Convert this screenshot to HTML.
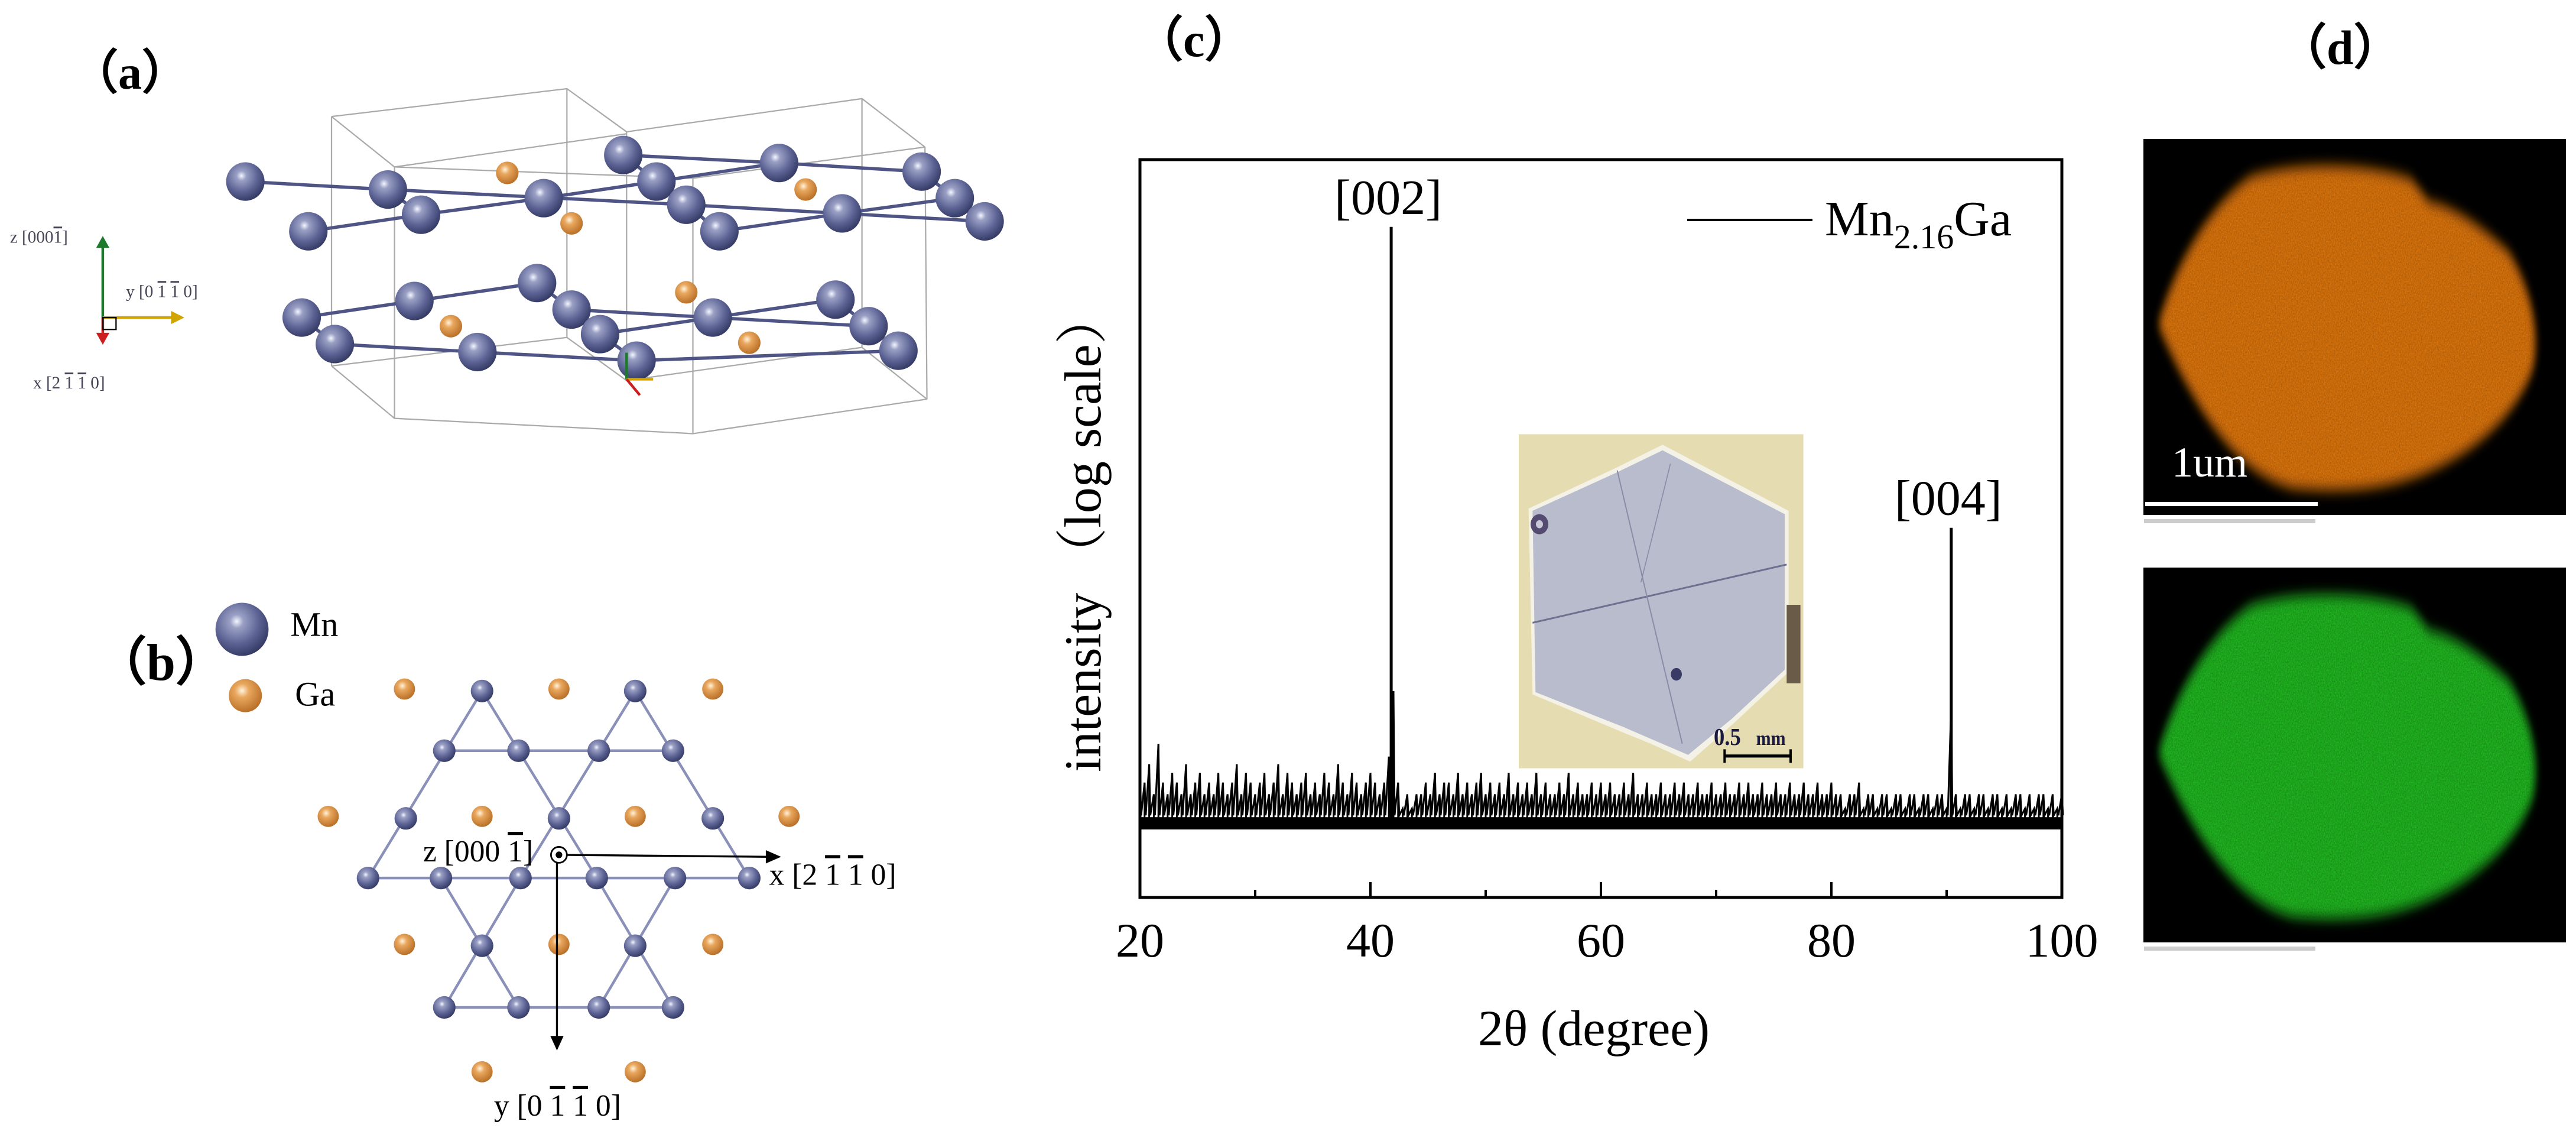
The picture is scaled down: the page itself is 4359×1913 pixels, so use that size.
<!DOCTYPE html>
<html><head><meta charset="utf-8"><style>
html,body{margin:0;padding:0;background:#fff;}
svg{display:block;}
text{font-family:"Liberation Serif",serif;}
</style></head><body>
<svg id="fig" width="4359" height="1913" viewBox="0 0 4359 1913" xmlns="http://www.w3.org/2000/svg">
<defs>
<radialGradient id="mnG" cx="0.4" cy="0.35" r="0.7"><stop offset="0" stop-color="#f4f6ff"/><stop offset="0.18" stop-color="#9aa0c4"/><stop offset="0.6" stop-color="#5c6394"/><stop offset="1" stop-color="#2f355e"/></radialGradient>
<radialGradient id="gaG" cx="0.4" cy="0.35" r="0.7"><stop offset="0" stop-color="#fff3dc"/><stop offset="0.3" stop-color="#e9a75e"/><stop offset="1" stop-color="#b56a22"/></radialGradient>
<filter id="spk" x="0" y="0" width="1" height="1"><feTurbulence type="fractalNoise" baseFrequency="0.35" numOctaves="1" result="n"/><feColorMatrix in="n" type="matrix" values="0 0 0 0 0  0 0 0 0 0  0 0 0 0 0  0 0 0 -1.2 0.9" result="m"/><feComposite in="SourceGraphic" in2="m" operator="in"/></filter>
<filter id="soft" x="-0.1" y="-0.1" width="1.2" height="1.2"><feGaussianBlur stdDeviation="12"/></filter>
</defs>

<text x="120" y="150" font-size="80" font-weight="bold">（a）</text>
<text x="160" y="1150" font-size="88" font-weight="bold">（b）</text>
<text x="1920" y="95" font-size="82" font-weight="bold">（c）</text>
<text x="3855" y="108" font-size="82" font-weight="bold">（d）</text>

<g transform="translate(0,150) scale(1.122)">
 <g fill="none" stroke="#aaa" stroke-width="2">
  <polyline points="500,42 855,0 945,65 1300,15 1395,88"/>
  <polyline points="500,42 595,118 945,68"/>
  <polyline points="595,118 1045,135 1395,88"/>
  <polyline points="500,418 595,497 1045,520 1398,468"/>
  <polyline points="500,418 855,375 945,440 1300,390 1398,468"/>
  <line x1="500" y1="42" x2="500" y2="418"/><line x1="595" y1="118" x2="595" y2="497"/>
  <line x1="855" y1="0" x2="855" y2="375"/><line x1="945" y1="65" x2="945" y2="440"/>
  <line x1="1045" y1="135" x2="1045" y2="520"/><line x1="1300" y1="15" x2="1300" y2="390"/>
  <line x1="1395" y1="88" x2="1398" y2="468"/>
 </g>
 <g fill="none" stroke="#4e5585" stroke-width="5">
  <polyline points="370,140 585,152 1035,175 1485,200"/>
  <polyline points="465,215 635,190 820,165 990,140 1175,112 1390,125"/>
  <polyline points="940,100 1175,112"/>
  <polyline points="585,152 635,190"/><polyline points="990,140 1035,175 1085,215 1270,188 1440,165 1390,125"/>
  <polyline points="1440,165 1485,200"/><polyline points="940,100 990,140"/>
  <polyline points="455,345 625,320 810,293 862,333 905,370 960,410"/>
  <polyline points="455,345 505,385 720,397 960,410 1355,395"/>
  <polyline points="862,333 1075,345 1260,318 1310,358 1355,395"/>
  <polyline points="905,370 1075,345"/><polyline points="1075,345 1310,358"/>
 </g>
 <g fill="url(#gaG)">
  <circle cx="765" cy="127" r="17"/><circle cx="862" cy="203" r="17"/><circle cx="1215" cy="152" r="17"/>
  <circle cx="1035" cy="307" r="17"/><circle cx="680" cy="358" r="17"/><circle cx="1130" cy="383" r="17"/>
 </g>
 <g fill="url(#mnG)">
  <circle cx="370" cy="140" r="29"/><circle cx="585" cy="152" r="29"/><circle cx="465" cy="215" r="29"/><circle cx="635" cy="190" r="29"/>
  <circle cx="820" cy="165" r="29"/><circle cx="940" cy="100" r="29"/><circle cx="990" cy="140" r="29"/><circle cx="1035" cy="175" r="29"/>
  <circle cx="1085" cy="215" r="29"/><circle cx="1175" cy="112" r="29"/><circle cx="1270" cy="188" r="29"/><circle cx="1390" cy="125" r="29"/>
  <circle cx="1440" cy="165" r="29"/><circle cx="1485" cy="200" r="29"/>
  <circle cx="455" cy="345" r="29"/><circle cx="625" cy="320" r="29"/><circle cx="810" cy="293" r="29"/><circle cx="862" cy="333" r="29"/>
  <circle cx="905" cy="370" r="29"/><circle cx="505" cy="385" r="29"/><circle cx="720" cy="397" r="29"/><circle cx="960" cy="410" r="29"/>
  <circle cx="1075" cy="345" r="29"/><circle cx="1260" cy="318" r="29"/><circle cx="1310" cy="358" r="29"/><circle cx="1355" cy="395" r="29"/>
 </g>
 <g stroke-width="4">
  <line x1="945" y1="438" x2="945" y2="398" stroke="#1d7a2c"/><line x1="945" y1="438" x2="985" y2="438" stroke="#d2a400"/><line x1="945" y1="438" x2="965" y2="462" stroke="#cc2020"/>
 </g>
 <g>
  <line x1="155" y1="345" x2="155" y2="235" stroke="#1d7a2c" stroke-width="4"/><polygon points="145,240 165,240 155,222" fill="#1d7a2c"/>
  <line x1="155" y1="345" x2="262" y2="345" stroke="#d2a400" stroke-width="4"/><polygon points="258,335 258,355 278,345" fill="#d2a400"/>
  <line x1="155" y1="345" x2="155" y2="372" stroke="#cc2020" stroke-width="4"/><polygon points="145,368 165,368 155,386" fill="#cc2020"/>
  <rect x="155" y="345" width="20" height="18" fill="none" stroke="#000" stroke-width="2"/>
  <text x="15" y="232" font-size="26" fill="#445">z [000<tspan text-decoration="overline">1</tspan>]</text>
  <text x="190" y="314" font-size="26" fill="#445">y [0 <tspan text-decoration="overline">1</tspan> <tspan text-decoration="overline">1</tspan> 0]</text>
  <text x="50" y="452" font-size="26" fill="#445">x [2 <tspan text-decoration="overline">1</tspan> <tspan text-decoration="overline">1</tspan> 0]</text>
 </g>
</g>

<g transform="translate(0,150) scale(1.122)">
 <g>
  <circle cx="365" cy="815" r="40" fill="url(#mnG)"/><text x="438" y="825" font-size="52">Mn</text>
  <circle cx="370" cy="915" r="25" fill="url(#gaG)"/><text x="445" y="930" font-size="52">Ga</text>
 </g>
 <g stroke="#8a90b8" stroke-width="4" fill="none">
  <line x1="670" y1="998" x2="1015" y2="998"/><line x1="555" y1="1190" x2="1130" y2="1190"/><line x1="670" y1="1385" x2="1015" y2="1385"/>
  <line x1="727" y1="908" x2="555" y2="1190"/><line x1="727" y1="908" x2="900" y2="1190"/>
  <line x1="958" y1="908" x2="785" y2="1190"/><line x1="958" y1="908" x2="1130" y2="1190"/>
  <line x1="665" y1="1190" x2="782" y2="1385"/><line x1="785" y1="1190" x2="670" y2="1385"/>
  <line x1="900" y1="1190" x2="1015" y2="1385"/><line x1="1018" y1="1190" x2="903" y2="1385"/>
 </g>
 <g fill="url(#gaG)">
  <circle cx="610" cy="905" r="16"/><circle cx="843" cy="905" r="16"/><circle cx="1075" cy="905" r="16"/>
  <circle cx="495" cy="1097" r="16"/><circle cx="727" cy="1097" r="16"/><circle cx="958" cy="1097" r="16"/><circle cx="1190" cy="1097" r="16"/>
  <circle cx="610" cy="1290" r="16"/><circle cx="843" cy="1290" r="16"/><circle cx="1075" cy="1290" r="16"/>
  <circle cx="727" cy="1482" r="16"/><circle cx="958" cy="1482" r="16"/>
 </g>
 <g fill="url(#mnG)">
  <circle cx="727" cy="908" r="17"/><circle cx="958" cy="908" r="17"/>
  <circle cx="670" cy="998" r="17"/><circle cx="782" cy="998" r="17"/><circle cx="903" cy="998" r="17"/><circle cx="1015" cy="998" r="17"/>
  <circle cx="612" cy="1100" r="17"/><circle cx="843" cy="1100" r="17"/><circle cx="1075" cy="1100" r="17"/>
  <circle cx="555" cy="1190" r="17"/><circle cx="665" cy="1190" r="17"/><circle cx="785" cy="1190" r="17"/><circle cx="900" cy="1190" r="17"/><circle cx="1018" cy="1190" r="17"/><circle cx="1130" cy="1190" r="17"/>
  <circle cx="727" cy="1292" r="17"/><circle cx="958" cy="1292" r="17"/>
  <circle cx="670" cy="1385" r="17"/><circle cx="782" cy="1385" r="17"/><circle cx="903" cy="1385" r="17"/><circle cx="1015" cy="1385" r="17"/>
 </g>
 <g>
  <line x1="843" y1="1155" x2="1160" y2="1158" stroke="#000" stroke-width="3"/><polygon points="1155,1148 1155,1168 1178,1158"/>
  <line x1="840" y1="1155" x2="840" y2="1430" stroke="#000" stroke-width="3"/><polygon points="830,1428 850,1428 840,1450"/>
  <circle cx="843" cy="1155" r="12" fill="#fff" stroke="#000" stroke-width="2.5"/><circle cx="843" cy="1155" r="5"/>
  <text x="638" y="1165" font-size="46">z [000 <tspan text-decoration="overline">1</tspan>]</text>
  <text x="1160" y="1200" font-size="46">x [2 <tspan text-decoration="overline">1</tspan> <tspan text-decoration="overline">1</tspan> 0]</text>
  <text x="745" y="1548" font-size="46">y [0 <tspan text-decoration="overline">1</tspan> <tspan text-decoration="overline">1</tspan> 0]</text>
 </g>
</g>

<g id="chart"></g>

<g>
 <rect x="3627" y="235" width="715" height="636" fill="#000"/>
 <g transform="translate(3580,180) scale(0.5,0.949)">
  <path d="M145,390 C200,280 330,170 460,125 C600,100 850,100 1000,130 L1060,170 C1150,180 1250,220 1330,260 C1400,320 1440,400 1410,470 C1360,540 1250,600 1100,640 C950,680 800,690 600,680 C450,660 300,580 145,390 Z" fill="#d9740f" filter="url(#soft)"/>
  <path d="M145,390 C200,280 330,170 460,125 C600,100 850,100 1000,130 L1060,170 C1150,180 1250,220 1330,260 C1400,320 1440,400 1410,470 C1360,540 1250,600 1100,640 C950,680 800,690 600,680 C450,660 300,580 145,390 Z" fill="#5a2800" filter="url(#spk)" opacity="0.5"/>
 </g>
 <text x="3675" y="806" font-size="72" fill="#fff">1um</text>
 <rect x="3630" y="849" width="292" height="7" fill="#fff"/>
 <rect x="3628" y="878" width="290" height="7" fill="#ccc"/>
 <rect x="3627" y="960" width="715" height="634" fill="#000"/>
 <g transform="translate(3580,905) scale(0.5,0.949)">
  <path d="M145,390 C200,280 330,170 460,125 C600,100 850,100 1000,130 L1060,170 C1150,180 1250,220 1330,260 C1400,320 1440,400 1410,470 C1360,540 1250,600 1100,640 C950,680 800,690 600,680 C450,660 300,580 145,390 Z" fill="#22b622" filter="url(#soft)"/>
  <path d="M145,390 C200,280 330,170 460,125 C600,100 850,100 1000,130 L1060,170 C1150,180 1250,220 1330,260 C1400,320 1440,400 1410,470 C1360,540 1250,600 1100,640 C950,680 800,690 600,680 C450,660 300,580 145,390 Z" fill="#063d06" filter="url(#spk)" opacity="0.5"/>
 </g>
 <rect x="3628" y="1601" width="290" height="7" fill="#ccc"/>
</g>
</svg>
<script>
// XRD data: 2theta grid 20..100 step 0.4, intensities (counts, log scale)
const twoThetaStart = 20;
const twoThetaStep = 0.4;
const noiseCounts = [7,6,8,5,11,6,5,7,6,5,8,5,6,7,5,6,5,7,6,5,6,8,5,7,6,5,
6,7,5,6,8,5,7,6,5,6,7,5,6,5,7,6,5,8,6,5,7,6,5,6,7,
6,5,6,9,25,6,4,5,4,5,
5,6,5,7,5,6,6,5,7,5,6,5,6,7,5,6,5,6,5,7,5,6,5,6,5,7,5,6,5,5,6,5,7,5,6,5,5,6,5,6,
5,6,5,5,6,5,7,5,5,6,5,5,6,5,5,6,5,6,5,5,6,5,5,6,5,5,6,5,5,6,5,6,5,5,6,5,5,6,5,5,6,5,5,6,5,5,6,5,5,6,
5,5,4,5,5,6,4,5,5,4,5,5,4,5,5,4,5,5,4,5,5,4,5,5,4,20,5,4,5,5,4,5,5,4,5,5,4,5,4,5,5,4,5,4,5,5,4,5,4,5];
const peakPositions = [41.8, 90.4];
const peakCounts = [35000, 320];
const peakLabels = ["[002]", "[004]"];
const xTicks = [20, 40, 60, 80, 100];
const xMinorTicks = [30, 50, 70, 90];

const NS = "http://www.w3.org/2000/svg";
const g = document.getElementById("chart");
const L = 1929, R = 3489, T = 270, B = 1518;
function xs(v){ return L + (v - 20) / 80 * (R - L); }
function ys(v){ return B - Math.log10(v) / 5 * (B - T); }
function mk(tag, attrs){ const e = document.createElementNS(NS, tag); for (const k in attrs) e.setAttribute(k, attrs[k]); g.appendChild(e); return e; }

const baseVal = 3;
// solid base band
const band = mk("rect", {x: xs(20), y: ys(3.5), width: xs(100) - xs(20), height: ys(baseVal) - ys(3.5) + 4, fill: "#000"});



// noise polyline
let d = "";
noiseCounts.forEach((c, i) => {
  const x = twoThetaStart + i * twoThetaStep;
  d += (i ? " L" : "M") + xs(x).toFixed(1) + "," + ys(c).toFixed(1) + " L" + (xs(x) + 1.95).toFixed(1) + "," + ys(3.6).toFixed(1);
});
const trace = mk("path", {d: d, fill: "none", stroke: "#000", "stroke-width": 3});


noiseCounts.forEach((c, i) => {
  const x = twoThetaStart + i * twoThetaStep;
  const s = mk("line", {x1: xs(x), x2: xs(x), y1: ys(baseVal), y2: ys(c), stroke: "#000", "stroke-width": 3});
  
  
});
peakPositions.forEach((p, i) => {
  const s = mk("line", {x1: xs(p), x2: xs(p), y1: ys(baseVal), y2: ys(peakCounts[i]), stroke: "#000", "stroke-width": 5});
  
  
});

const fr = mk("rect", {x: L, y: T, width: R - L, height: B - T, fill: "none", stroke: "#000", "stroke-width": 5});



xTicks.forEach(v => {
  const t = mk("line", {x1: xs(v), x2: xs(v), y1: B, y2: B - 26, stroke: "#000", "stroke-width": 4});
  
  
  const lb = mk("text", {x: xs(v), y: 1618, "font-size": 82, "text-anchor": "middle"});
  lb.textContent = v;
  
  
});
xMinorTicks.forEach(v => {
  const t = mk("line", {x1: xs(v), x2: xs(v), y1: B, y2: B - 13, stroke: "#000", "stroke-width": 4});
  
  
});

peakPositions.forEach((p, i) => {
  const t = mk("text", {x: xs(p) - 5, y: ys(peakCounts[i]) - 22, "font-size": 84, "text-anchor": "middle"});
  t.textContent = peakLabels[i];
  
  
});

const ll = mk("line", {x1: 2855, x2: 3067, y1: 372, y2: 372, stroke: "#000", "stroke-width": 4});


const lt = mk("text", {x: 3088, y: 398, "font-size": 84});
lt.innerHTML = 'Mn<tspan font-size="58" dy="22">2.16</tspan><tspan dy="-22">Ga</tspan>';



const xt = mk("text", {x: 2697, y: 1768, "font-size": 86, "text-anchor": "middle"});
xt.textContent = "2θ (degree)";


const yt = mk("text", {x: 0, y: 0, "font-size": 88, "text-anchor": "middle", transform: "translate(1862,900) rotate(-90)"});
yt.setAttribute("style", 'font-family:"Liberation Serif","Noto Serif CJK SC",serif');
yt.textContent = "intensity （log scale）";



const ins = document.createElementNS(NS, "g");
ins.setAttribute("transform", "translate(2560,720) scale(0.3333,0.3788)");


ins.innerHTML = '<rect x="30" y="38" width="1445" height="1492" fill="#e6dcb2"/>' +
 '<polygon points="80,370 520,190 760,85 1400,380 1400,1100 1120,1330 900,1500 700,1420 560,1370 100,1200" fill="#f4f2e6"/>' +
 '<polygon points="100,380 525,210 760,110 1380,395 1380,1090 1110,1310 890,1470 705,1400 560,1345 115,1190" fill="#b8bccc"/>' +
 '<line x1="100" y1="880" x2="1390" y2="620" stroke="#6e7090" stroke-width="8"/>' +
 '<polyline points="530,200 680,760 860,1420" fill="none" stroke="#8a8ca8" stroke-width="6"/>' +
 '<polyline points="800,170 650,700" fill="none" stroke="#8a8ca8" stroke-width="5"/>' +
 '<circle cx="135" cy="440" r="45" fill="#554a70"/><circle cx="135" cy="440" r="18" fill="#c8c8d8"/>' +
 '<circle cx="830" cy="1110" r="28" fill="#3a3a66"/>' +
 '<rect x="1390" y="800" width="70" height="350" fill="#6a5a48"/>' +
 '<text x="1020" y="1425" font-size="110" font-weight="bold" fill="#1a1a40">0.5</text>' +
 '<text x="1235" y="1425" font-size="90" font-weight="bold" fill="#1a1a40">mm</text>' +
 '<line x1="1075" y1="1475" x2="1410" y2="1475" stroke="#000" stroke-width="14"/>' +
 '<line x1="1075" y1="1445" x2="1075" y2="1505" stroke="#000" stroke-width="12"/>' +
 '<line x1="1410" y1="1445" x2="1410" y2="1505" stroke="#000" stroke-width="12"/>';
g.insertBefore(ins, g.firstChild);
</script>
</body></html>
